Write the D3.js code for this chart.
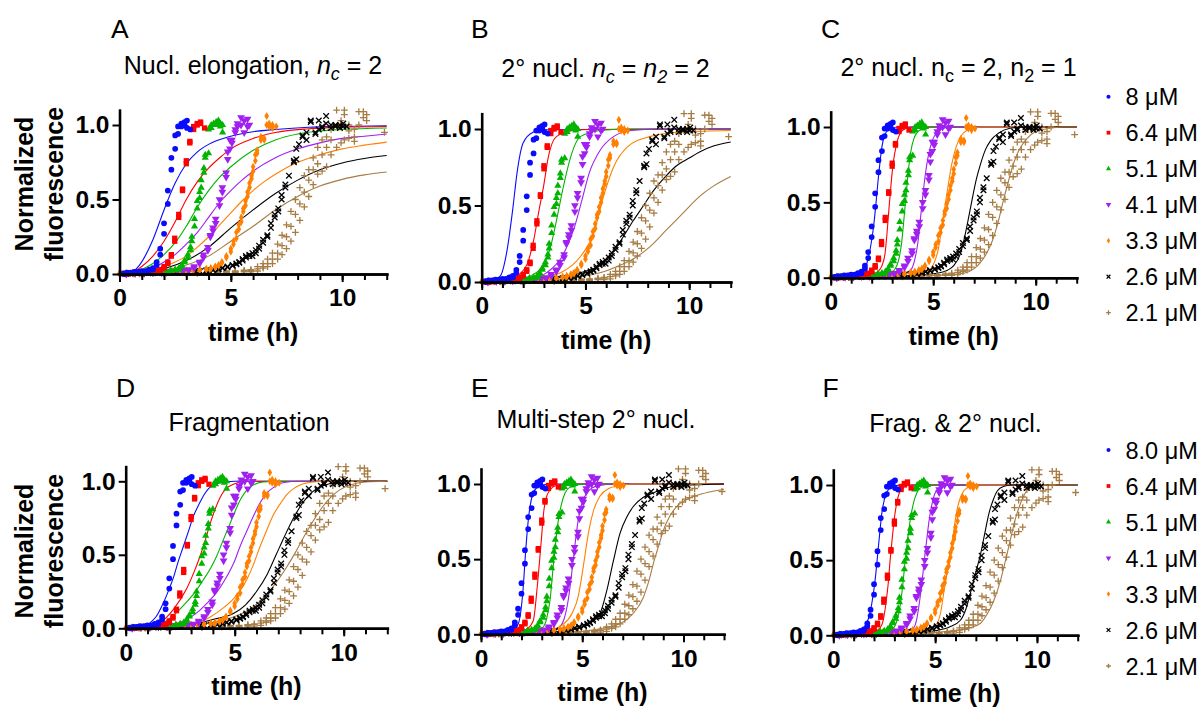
<!DOCTYPE html>
<html>
<head>
<meta charset="utf-8">
<script src="https://cdn.jsdelivr.net/npm/d3@7"></script>
<style>
  body { margin: 0; background: #fff; }
  text { font-family: "Liberation Sans", Arial, sans-serif; }
</style>
</head>
<body>
<svg id="fig" width="1203" height="709"></svg>
<script>
// measured data, one array per concentration: [time (h), replicate values...]
var conc8 = [[0.2,0.005,0.0],[0.35,0.005,0.01],[0.5,0.01,0.005],[0.67,0.01,0.015],[0.83,0.015,0.01],[1.0,0.015,0.02],[1.17,0.02,0.015],[1.33,0.025,0.03],[1.5,0.04,0.03],[1.67,0.08,0.06],[1.83,0.17,0.13],[2.0,0.34,0.27],[2.17,0.56,0.47],[2.33,0.78,0.70],[2.5,0.93,0.84],[2.63,0.94,0.99],[2.78,1.01,0.99],[2.92,1.02,1.0],[3.03,1.03,0.98],[3.18,0.97]];
var conc64 = [[0.2,0.0,0.005],[0.4,0.005,0.0],[0.6,0.005,0.01],[0.8,0.01,0.005],[1.0,0.01,0.015],[1.2,0.015,0.01],[1.4,0.015,0.02],[1.6,0.02,0.025],[1.83,0.03,0.025],[2.0,0.05,0.04],[2.17,0.08,0.07],[2.33,0.13,0.12],[2.48,0.24,0.22],[2.66,0.40,0.38],[2.83,0.57,0.56],[3.0,0.76,0.74],[3.16,0.89,0.88],[3.33,0.99,0.97],[3.49,1.01,1.0],[3.64,1.02,1.01],[3.82,0.98]];
var conc51 = [[0.3,0.0,0.005],[0.6,0.005,0.0],[0.9,0.005,0.01],[1.2,0.01,0.005],[1.5,0.01,0.015],[1.8,0.015,0.01],[2.1,0.02,0.015],[2.3,0.02,0.025],[2.5,0.03,0.025],[2.67,0.04,0.03],[2.8,0.06,0.05],[2.92,0.09,0.08],[3.07,0.13,0.11],[3.19,0.18,0.16],[3.25,0.25,0.22],[3.37,0.37,0.32],[3.49,0.49,0.44],[3.6,0.55,0.51],[3.67,0.63,0.58],[3.79,0.71,0.68],[3.85,0.8,0.78],[4.0,0.81,0.97],[4.12,1.0,0.98],[4.23,1.0,1.01],[4.34,1.02,1.0],[4.44,1.03,1.01],[4.53,1.01,0.99],[4.63,0.95,1.0]];
var conc41 = [[0.3,0.005,0.0],[0.7,0.005,0.005],[1.1,0.01,0.005],[1.5,0.01,0.01],[1.9,0.015,0.01],[2.3,0.015,0.02],[2.6,0.02,0.02],[2.85,0.025,0.02],[3.1,0.03,0.025],[3.35,0.05,0.04],[3.6,0.08,0.07],[3.77,0.13,0.11],[3.97,0.18,0.16],[4.08,0.26,0.25],[4.2,0.31,0.29],[4.32,0.37,0.34],[4.49,0.5,0.46],[4.62,0.58,0.55],[4.79,0.68,0.65],[4.86,0.77,0.82],[4.96,0.84,0.9],[5.05,0.9,0.88],[5.2,0.95,0.97],[5.3,1.01,0.99],[5.46,1.05,1.0],[5.6,1.03,0.95],[5.75,1.04,0.99],[5.83,1.0]];
var conc33 = [[0.0,0.0,0.005],[0.3,0.005,0.0],[0.6,0.005,0.01],[0.9,0.01,0.005],[1.2,0.01,0.01],[1.5,0.01,0.015],[1.8,0.015,0.01],[2.1,0.015,0.02],[2.4,0.02,0.015],[2.7,0.02,0.02],[3.0,0.02,0.025],[3.3,0.025,0.02],[3.6,0.03,0.025],[3.9,0.03,0.035],[4.1,0.04,0.035],[4.3,0.05,0.045],[4.45,0.06,0.055],[4.6,0.08,0.075],[4.8,0.12,0.11],[5.0,0.17,0.15],[5.12,0.22,0.2],[5.25,0.28,0.24],[5.36,0.33,0.3],[5.47,0.38,0.35],[5.56,0.44,0.42],[5.66,0.49,0.46],[5.75,0.55,0.52],[5.84,0.61,0.58],[5.93,0.66,0.64],[6.0,0.72,0.69],[6.1,0.76,0.8],[6.18,0.83,0.81],[6.35,0.9,0.92],[6.5,0.91,0.9],[6.61,1.06,1.0],[6.72,1.01,0.99],[6.87,1.0,0.98],[7.04,0.99]];
var conc26 = [[0.5,0.0,0.005],[1.0,0.005,0.0],[1.5,0.005,0.01],[2.0,0.01,0.005],[2.5,0.01,0.01],[2.8,0.01,0.015],[3.1,0.015,0.01],[3.4,0.015,0.02],[3.6,0.02,0.015],[3.9,0.02,0.025],[4.2,0.025,0.03],[4.45,0.03,0.035],[4.63,0.04,0.04],[4.85,0.05,0.045],[5.08,0.06,0.055],[5.25,0.07,0.065],[5.38,0.08,0.075],[5.53,0.1,0.09],[5.68,0.12,0.11],[5.83,0.13,0.12],[5.97,0.12,0.14],[6.12,0.14,0.16],[6.27,0.17,0.19],[6.45,0.21,0.23],[6.64,0.26,0.25],[6.8,0.34,0.31],[6.97,0.4,0.38],[7.13,0.44,0.42],[7.28,0.53,0.5],[7.45,0.6,0.58],[7.61,0.66],[7.83,0.76,0.75],[7.94,0.77,0.84],[8.06,0.87],[8.22,0.92,0.93],[8.4,0.9,0.95],[8.59,1.03,1.02],[8.8,0.95,0.94],[8.95,1.03,0.97],[9.1,0.99,0.98],[9.28,1.06,1.01],[9.5,0.98,1.0],[9.7,0.99,1.0],[9.9,1.0,0.98],[10.05,1.01,0.99],[10.2,0.99]];
var conc21 = [[1.0,0.0,0.005,0.0],[2.0,0.005,0.0,0.005],[3.0,0.005,0.01,0.005],[3.5,0.01,0.005,0.01],[4.0,0.01,0.01,0.005],[4.4,0.015,0.01,0.01],[4.8,0.015,0.02,0.01],[5.2,0.02,0.015,0.01],[5.6,0.025,0.02,0.015],[5.9,0.03,0.025,0.015],[6.2,0.05,0.035,0.02],[6.45,0.07,0.05,0.04],[6.65,0.1,0.07,0.05],[6.87,0.14,0.1,0.07],[7.1,0.2,0.14,0.1],[7.3,0.26,0.19,0.13],[7.5,0.33,0.25,0.17],[7.7,0.42,0.32,0.22],[7.9,0.5,0.4,0.28],[8.1,0.58,0.47,0.36],[8.3,0.66,0.55,0.45],[8.5,0.7,0.63,0.52],[8.7,0.78,0.7,0.6],[8.9,0.85,0.74,0.67],[9.1,0.9,0.8,0.69],[9.3,0.92,0.85,0.72],[9.5,0.97,0.9,0.8],[9.75,1.1,0.99,0.85],[9.95,1.0,1.03,0.88],[10.1,1.1,1.07,0.9],[10.3,1.0,0.96,0.91],[10.55,0.97,0.92,0.89],[10.75,1.09,1.0],[10.95,1.09,1.05],[11.1,1.07,1.03],[11.9,0.95]];

// model fits, [time, value], one curve per concentration
var fitA = [
  [[0,0],[0.3,0],[0.9,0.06],[1.5,0.23],[2.0,0.43],[2.5,0.61],[3.0,0.74],[3.5,0.82],[4.0,0.87],[5.0,0.925],[6.0,0.955],[7.0,0.97],[8.5,0.985],[10,0.99],[12,0.995]],
  [[0,0],[0.35,0],[1.0,0.05],[1.5,0.12],[2.0,0.22],[2.5,0.35],[3.0,0.5],[3.5,0.62],[4.0,0.71],[4.5,0.78],[5.0,0.84],[6.0,0.91],[7.0,0.95],[8.5,0.975],[10,0.985],[12,0.99]],
  [[0,0],[0.4,0],[1.0,0.03],[1.5,0.07],[2.0,0.13],[2.5,0.21],[3.0,0.32],[3.5,0.45],[4.0,0.56],[4.5,0.65],[5.0,0.72],[6.0,0.83],[7.0,0.9],[8.0,0.94],[9.0,0.96],[10,0.97],[12,0.98]],
  [[0,0],[0.4,0],[1,0.02],[1.5,0.04],[2,0.08],[2.5,0.13],[3,0.2],[3.5,0.28],[4,0.38],[4.5,0.48],[5,0.56],[5.5,0.63],[6,0.69],[7,0.78],[8,0.84],[9,0.88],[10,0.91],[11,0.925],[12,0.94]],
  [[0,0],[0.4,0],[1,0.01],[2,0.05],[2.5,0.08],[3,0.12],[3.5,0.18],[4,0.25],[4.5,0.33],[5,0.41],[5.5,0.49],[6,0.56],[6.5,0.62],[7,0.67],[8,0.75],[9,0.8],[10,0.84],[11,0.865],[12,0.885]],
  [[0,0],[0.45,0],[1,0.008],[2,0.035],[3,0.09],[4,0.18],[5,0.31],[6,0.43],[7,0.54],[8,0.63],[9,0.7],[10,0.745],[11,0.775],[12,0.795]],
  [[0,0],[0.5,0],[1,0.005],[2,0.02],[3,0.06],[4,0.12],[5,0.22],[6,0.32],[7,0.43],[8,0.52],[9,0.59],[10,0.635],[11,0.665],[12,0.685]]
];
var fitB = [
  [[0,0],[0.4,0],[0.9,0.04],[1.2,0.19],[1.5,0.48],[1.7,0.71],[2.0,0.91],[2.5,0.98],[3.0,0.995],[12,1]],
  [[0,0],[0.5,0],[1.0,0.01],[1.5,0.03],[1.9,0.06],[2.2,0.12],[2.5,0.27],[2.75,0.46],[3.0,0.64],[3.2,0.81],[3.6,0.95],[4.4,0.99],[5,0.997],[12,1]],
  [[0,0],[0.5,0],[1.5,0.01],[2.5,0.05],[3.0,0.12],[3.3,0.22],[3.6,0.4],[3.9,0.6],[4.25,0.8],[4.75,0.95],[5.7,0.99],[7,1],[12,1]],
  [[0,0],[0.5,0],[2,0.01],[3,0.05],[3.4,0.09],[3.8,0.15],[4.2,0.26],[4.45,0.35],[4.8,0.52],[5.2,0.72],[5.7,0.86],[6.35,0.95],[7.2,0.99],[8.5,1],[12,1]],
  [[0,0],[0.5,0],[2,0.01],[3,0.03],[3.8,0.06],[4.75,0.165],[5.4,0.32],[5.85,0.55],[6.35,0.75],[7.0,0.88],[8.1,0.95],[9.7,0.98],[12,0.99]],
  [[0,0],[0.5,0],[2,0.005],[3,0.02],[4.1,0.04],[5.0,0.07],[5.7,0.11],[6.2,0.18],[6.7,0.27],[7.3,0.4],[7.8,0.5],[8.3,0.6],[8.8,0.68],[9.3,0.75],[10,0.81],[10.5,0.85],[11.2,0.89],[12,0.915]],
  [[0,0],[0.5,0],[3,0.01],[4.5,0.03],[5.7,0.06],[6.5,0.1],[7.3,0.15],[8.1,0.23],[8.9,0.34],[9.7,0.45],[10.5,0.56],[11.2,0.63],[12,0.69]]
];
var fitC = [
  [[0,0],[0.5,0.002],[1.2,0.01],[1.5,0.03],[1.7,0.07],[1.85,0.14],[2.0,0.25],[2.1,0.35],[2.2,0.48],[2.3,0.63],[2.4,0.76],[2.5,0.87],[2.65,0.95],[2.9,0.99],[3.3,1],[12,1]],
  [[0,0],[0.5,0.002],[1.5,0.01],[2.0,0.02],[2.3,0.04],[2.5,0.08],[2.65,0.16],[2.75,0.3],[2.85,0.47],[2.95,0.63],[3.05,0.76],[3.2,0.88],[3.4,0.96],[3.65,0.99],[4,1],[12,1]],
  [[0,0],[0.5,0.002],[2,0.01],[2.8,0.02],[3.1,0.05],[3.3,0.11],[3.45,0.22],[3.58,0.4],[3.68,0.55],[3.78,0.7],[3.9,0.83],[4.05,0.92],[4.35,0.98],[4.8,1],[12,1]],
  [[0,0],[0.5,0.002],[2.5,0.01],[3.5,0.025],[3.9,0.05],[4.1,0.12],[4.25,0.23],[4.4,0.42],[4.5,0.55],[4.62,0.69],[4.75,0.8],[4.93,0.9],[5.15,0.96],[5.45,0.99],[6,1],[12,1]],
  [[0,0],[0.5,0.002],[3,0.01],[4.2,0.025],[4.8,0.05],[5.05,0.1],[5.25,0.19],[5.45,0.36],[5.6,0.5],[5.75,0.63],[5.9,0.75],[6.1,0.86],[6.35,0.94],[6.7,0.98],[7.3,1],[12,1]],
  [[0,0],[1,0.002],[4,0.015],[5.2,0.03],[5.7,0.05],[6.0,0.08],[6.3,0.15],[6.5,0.25],[6.7,0.38],[6.9,0.52],[7.1,0.65],[7.3,0.75],[7.55,0.85],[7.8,0.91],[8.2,0.96],[8.7,0.99],[9.5,1],[12,1]],
  [[0,0],[1,0.002],[5,0.015],[6.5,0.03],[7.0,0.06],[7.3,0.1],[7.6,0.16],[7.9,0.25],[8.15,0.36],[8.4,0.5],[8.65,0.63],[8.9,0.75],[9.2,0.85],[9.55,0.92],[10.0,0.97],[10.6,0.99],[11.3,1],[12,1]]
];
var fitD = [
  [[0,0],[0.4,0],[0.8,0.01],[1.1,0.035],[1.4,0.08],[1.72,0.17],[2.0,0.27],[2.2,0.35],[2.4,0.45],[2.64,0.555],[2.9,0.67],[3.1,0.76],[3.35,0.84],[3.56,0.9],[3.8,0.95],[4.1,0.98],[4.6,0.995],[5,1],[12,1]],
  [[0,0],[0.4,0],[1,0.01],[1.6,0.04],[2.2,0.13],[2.8,0.27],[3.1,0.37],[3.41,0.49],[3.65,0.6],[3.87,0.71],[4.1,0.81],[4.33,0.89],[4.6,0.95],[4.94,0.98],[5.5,1],[12,1]],
  [[0,0],[0.4,0],[1,0.01],[1.6,0.03],[2.2,0.09],[2.8,0.18],[3.2,0.25],[3.56,0.33],[3.9,0.41],[4.17,0.49],[4.5,0.61],[4.78,0.71],[5.0,0.79],[5.24,0.87],[5.5,0.93],[5.8,0.97],[6.3,0.995],[7,1],[12,1]],
  [[0,0],[0.4,0],[1.5,0.01],[2.3,0.03],[2.8,0.06],[3.3,0.11],[3.72,0.17],[4.2,0.25],[4.63,0.35],[5.0,0.46],[5.24,0.555],[5.55,0.66],[5.85,0.76],[6.15,0.85],[6.47,0.92],[6.8,0.96],[7.2,0.99],[8,1],[12,1]],
  [[0,0],[0.4,0],[2,0.01],[3,0.03],[3.8,0.07],[4.4,0.13],[4.94,0.2],[5.55,0.33],[5.85,0.43],[6.16,0.555],[6.45,0.66],[6.77,0.77],[7.1,0.85],[7.39,0.91],[7.7,0.95],[8.0,0.975],[8.6,0.995],[9.2,1],[12,1]],
  [[0,0],[0.5,0],[2,0.01],[3,0.025],[4,0.06],[4.94,0.1],[5.5,0.16],[6.0,0.25],[6.5,0.37],[6.9,0.5],[7.3,0.63],[7.7,0.75],[8.1,0.85],[8.5,0.92],[8.9,0.96],[9.4,0.985],[10,1],[12,1]],
  [[0,0],[0.5,0],[2,0.005],[3,0.02],[4,0.04],[5,0.08],[5.8,0.14],[6.4,0.22],[6.9,0.31],[7.4,0.42],[7.8,0.52],[8.2,0.63],[8.6,0.73],[9.0,0.82],[9.4,0.89],[9.8,0.94],[10.3,0.975],[11,0.995],[12,1]]
];
var fitE = [
  [[0,0],[0.4,0],[1.0,0.005],[1.5,0.02],[1.84,0.07],[2.06,0.27],[2.22,0.58],[2.32,0.74],[2.42,0.85],[2.55,0.93],[2.75,0.975],[3.1,0.995],[3.5,1],[12,1]],
  [[0,0],[0.4,0],[1.5,0.01],[2.2,0.03],[2.58,0.09],[2.78,0.32],[2.95,0.58],[3.11,0.83],[3.25,0.92],[3.41,0.96],[3.7,0.99],[4.2,1],[12,1]],
  [[0,0],[0.4,0],[2,0.01],[2.8,0.025],[3.08,0.05],[3.25,0.11],[3.41,0.23],[3.6,0.5],[3.72,0.65],[3.82,0.76],[3.98,0.87],[4.15,0.94],[4.4,0.98],[4.74,0.995],[5.2,1],[12,1]],
  [[0,0],[0.4,0],[2.5,0.01],[3.5,0.025],[3.9,0.05],[4.1,0.1],[4.31,0.23],[4.56,0.5],[4.68,0.64],[4.8,0.76],[4.98,0.87],[5.22,0.94],[5.5,0.975],[5.9,0.99],[6.5,1],[12,1]],
  [[0,0],[0.4,0],[2.5,0.01],[3.5,0.03],[4.0,0.06],[4.5,0.14],[4.8,0.25],[5.05,0.45],[5.3,0.67],[5.55,0.82],[5.88,0.92],[6.3,0.97],[6.87,0.99],[7.5,1],[12,1]],
  [[0,0],[0.4,0],[3,0.01],[4.5,0.03],[5.3,0.07],[5.88,0.14],[6.21,0.29],[6.54,0.49],[6.86,0.67],[7.2,0.78],[7.52,0.85],[8.0,0.91],[8.5,0.94],[9.2,0.975],[10,0.99],[12,1]],
  [[0,0],[0.4,0],[4,0.01],[6,0.04],[7.0,0.08],[7.52,0.14],[8.0,0.24],[8.3,0.36],[8.55,0.49],[8.8,0.6],[9.0,0.69],[9.3,0.78],[9.66,0.85],[10.2,0.9],[10.8,0.93],[11.4,0.95],[12,0.965]]
];
var fitF = [
  [[0,0],[0.4,0],[1.0,0.01],[1.4,0.04],[1.64,0.08],[1.8,0.15],[1.97,0.28],[2.08,0.4],[2.18,0.54],[2.28,0.68],[2.38,0.81],[2.5,0.9],[2.71,0.97],[3.0,0.995],[3.4,1],[12,1]],
  [[0,0],[0.4,0],[1.5,0.01],[2.0,0.025],[2.3,0.05],[2.45,0.1],[2.6,0.23],[2.7,0.35],[2.79,0.5],[2.89,0.64],[2.99,0.77],[3.1,0.87],[3.25,0.95],[3.5,0.99],[3.9,1],[12,1]],
  [[0,0],[0.4,0],[2,0.01],[2.6,0.025],[2.96,0.05],[3.15,0.11],[3.32,0.23],[3.43,0.36],[3.53,0.5],[3.65,0.64],[3.78,0.77],[3.92,0.87],[4.11,0.95],[4.4,0.99],[4.8,1],[12,1]],
  [[0,0],[0.4,0],[2.5,0.01],[3.5,0.03],[3.94,0.05],[4.1,0.11],[4.24,0.23],[4.36,0.36],[4.47,0.5],[4.59,0.64],[4.71,0.77],[4.84,0.87],[5.01,0.95],[5.3,0.99],[5.7,1],[12,1]],
  [[0,0],[0.4,0],[3,0.01],[4.3,0.03],[4.8,0.05],[5.09,0.08],[5.27,0.15],[5.42,0.28],[5.58,0.41],[5.75,0.54],[5.9,0.68],[6.04,0.81],[6.2,0.9],[6.4,0.96],[6.7,0.99],[7.1,1],[12,1]],
  [[0,0],[0.4,0],[3.5,0.01],[5.0,0.03],[5.7,0.055],[6.24,0.1],[6.5,0.17],[6.73,0.28],[6.98,0.41],[7.23,0.54],[7.44,0.68],[7.64,0.81],[7.85,0.9],[8.05,0.96],[8.35,0.99],[8.8,1],[12,1]],
  [[0,0],[0.4,0],[4,0.01],[5.8,0.03],[6.7,0.05],[7.23,0.08],[7.55,0.14],[7.88,0.23],[8.2,0.36],[8.46,0.5],[8.7,0.64],[8.95,0.78],[9.2,0.88],[9.44,0.95],[9.8,0.99],[10.3,1],[12,1]]
];

var legendTop = ["8 μM", "6.4 μM", "5.1 μM", "4.1 μM", "3.3 μM", "2.6 μM", "2.1 μM"];
var legendBottom = ["8.0 μM", "6.4 μM", "5.1 μM", "4.1 μM", "3.3 μM", "2.6 μM", "2.1 μM"];
var xMinorTicks = [0,1,2,3,4,5,6,7,8,9,10,11,12];
var xMajorTicks = [0, 5, 10];
var yTicks = [0, 0.5, 1.0];

var titleA = [["Nucl. elongation, ", ""], ["n", "i"], ["c", "isub"], [" = 2", ""]];
var titleB = [["2° nucl. ", ""], ["n", "i"], ["c", "isub"], [" = ", ""], ["n", "i"], ["2", "isub"], [" = 2", ""]];
var titleC = [["2° nucl. n", ""], ["c", "sub"], [" = 2, n", ""], ["2", "sub"], [" = 1", ""]];
var titleD = [["Fragmentation", ""]];
var titleE = [["Multi-step 2° nucl.", ""]];
var titleF = [["Frag. & 2° nucl.", ""]];

var allData = [conc8, conc64, conc51, conc41, conc33, conc26, conc21];

// styles
var colors = ["#0a0aff", "#ff0000", "#00b400", "#a020f0", "#ff8000", "#000000", "#a67c45"];
var shapes = [d3.symbolCircle, d3.symbolSquare, d3.symbolTriangle, d3.symbolTriangle, d3.symbolDiamond, d3.symbolTimes, d3.symbolPlus];
var sizes = [26, 28, 22, 26, 19, 22, 17];
var turn = [0, 0, 0, 180, 0, 0, 0];
var stroked = [false, false, false, false, false, true, true];

// layout of the six panels
var panels = [
  {letter: "A", fit: fitA, title: titleA, left: 119.5, right: 386.7, base: 274, unit: 149, lx: 111, ly: 38, tx: 253, ty: 74, ylab: 184},
  {letter: "B", fit: fitB, title: titleB, left: 481.7, right: 730.7, base: 282, unit: 153, lx: 471, ly: 38, tx: 605.5, ty: 77},
  {letter: "C", fit: fitC, title: titleC, left: 830.7, right: 1076.7, base: 277.7, unit: 150.7, lx: 821, ly: 38, tx: 958.5, ty: 76, legend: legendTop, legY: 96.7},
  {letter: "D", fit: fitD, title: titleD, left: 125.7, right: 387.3, base: 628.3, unit: 147, lx: 116, ly: 396.5, tx: 249, ty: 431, ylab: 551},
  {letter: "E", fit: fitE, title: titleE, left: 481, right: 724, base: 634.3, unit: 150.3, lx: 471, ly: 396.5, tx: 596, ty: 428},
  {letter: "F", fit: fitF, title: titleF, left: 833.3, right: 1077.7, base: 635.3, unit: 150.3, lx: 822.5, ly: 396.5, tx: 955.5, ty: 432, legend: legendBottom, legY: 450}
];

var svg = d3.select("#fig");
svg.append("rect").attr("width", 1203).attr("height", 709).attr("fill", "#fff");

function marker(i, scale) {
  return d3.symbol().type(shapes[i]).size(sizes[i] * scale)();
}

function styleMarker(sel, i) {
  if (stroked[i]) {
    sel.attr("fill", "none").attr("stroke", colors[i]).attr("stroke-width", 1.3);
  } else {
    sel.attr("fill", colors[i]).attr("stroke", "none");
  }
}

panels.forEach(function (p) {
  var x = d3.scaleLinear().domain([0, 12]).range([p.left, p.right]);
  var y = d3.scaleLinear().domain([0, 1.1]).range([p.base, p.base - p.unit * 1.1]);
  var g = svg.append("g");

  // fitted curves
  var line = d3.line()
    .x(function (d) { return x(d[0]); })
    .y(function (d) { return y(d[1]); })
    .curve(d3.curveMonotoneX);
  p.fit.forEach(function (f, i) {
    g.append("path")
      .attr("d", line(f))
      .attr("fill", "none")
      .attr("stroke", colors[i])
      .attr("stroke-width", 1.1);
  });

  // replicate points, low concentrations first so 8 uM sits on top
  for (var i = allData.length - 1; i >= 0; i--) {
    var pts = [];
    allData[i].forEach(function (row) {
      for (var j = 1; j < row.length; j++) pts.push([row[0], row[j]]);
    });
    var sel = g.append("g").selectAll("path")
      .data(pts)
      .enter()
      .append("path")
      .attr("d", marker(i, 1))
      .attr("transform", function (d) {
        return "translate(" + x(d[0]) + "," + y(d[1]) + ") rotate(" + turn[i] + ")";
      });
    styleMarker(sel, i);
  }

  // axes
  function styleAxis(a) {
    a.attr("font-family", "'Liberation Sans', Arial, sans-serif")
      .attr("font-size", 24.5)
      .attr("font-weight", "bold");
    a.select(".domain").attr("stroke", "#000").attr("stroke-width", 2.6).attr("stroke-linecap", "square");
    a.selectAll(".tick line").attr("stroke", "#000").attr("stroke-width", 2);
    a.selectAll(".tick text").attr("fill", "#000");
  }
  var xMinor = g.append("g")
    .attr("transform", "translate(0," + p.base + ")")
    .call(d3.axisBottom(x).tickValues(xMinorTicks).tickSize(6).tickSizeOuter(0).tickFormat(""));
  styleAxis(xMinor);
  var xMajor = g.append("g")
    .attr("transform", "translate(0," + p.base + ")")
    .call(d3.axisBottom(x).tickValues(xMajorTicks).tickSize(8).tickPadding(7).tickSizeOuter(0).tickFormat(d3.format("d")));
  styleAxis(xMajor);
  var yAx = g.append("g")
    .attr("transform", "translate(" + p.left + ",0)")
    .call(d3.axisLeft(y).tickValues(yTicks).tickSize(7).tickPadding(3).tickSizeOuter(0).tickFormat(d3.format(".1f")));
  styleAxis(yAx);

  // axis titles
  g.append("text")
    .attr("x", (p.left + p.right) / 2)
    .attr("y", p.base + 67)
    .attr("text-anchor", "middle")
    .attr("font-size", 25)
    .attr("font-weight", "bold")
    .text("time (h)");

  if (p.ylab) {
    [["Normalized", 33], ["fluorescence", 63]].forEach(function (t) {
      g.append("text")
        .attr("transform", "translate(" + t[1] + "," + p.ylab + ") rotate(-90)")
        .attr("text-anchor", "middle")
        .attr("font-size", 25)
        .attr("font-weight", "bold")
        .text(t[0]);
    });
  }

  // panel letter and title
  g.append("text")
    .attr("x", p.lx)
    .attr("y", p.ly)
    .attr("font-size", 26.5)
    .text(p.letter);

  var title = g.append("text")
    .attr("x", p.tx)
    .attr("y", p.ty)
    .attr("text-anchor", "middle")
    .attr("font-size", 25);
  var shift = 0;
  p.title.forEach(function (s) {
    var ts = title.append("tspan").text(s[0]);
    var isSub = s[1].indexOf("sub") >= 0;
    if (s[1].indexOf("i") === 0) ts.attr("font-style", "italic");
    if (isSub) {
      ts.attr("font-size", 18).attr("dy", 6);
      shift = 6;
    } else if (shift) {
      ts.attr("dy", -shift);
      shift = 0;
    }
  });

  // legend
  if (p.legend) {
    var lg = svg.append("g");
    p.legend.forEach(function (lab, i) {
      var cy = p.legY + 36 * i;
      var m = lg.append("path")
        .attr("d", marker(i, 0.5))
        .attr("transform", "translate(1108.5," + cy + ") rotate(" + turn[i] + ")");
      styleMarker(m, i);
      lg.append("text")
        .attr("x", 1125.5)
        .attr("y", cy + 8.5)
        .attr("font-size", 23.5)
        .text(lab);
    });
  }
});
</script>
</body>
</html>
